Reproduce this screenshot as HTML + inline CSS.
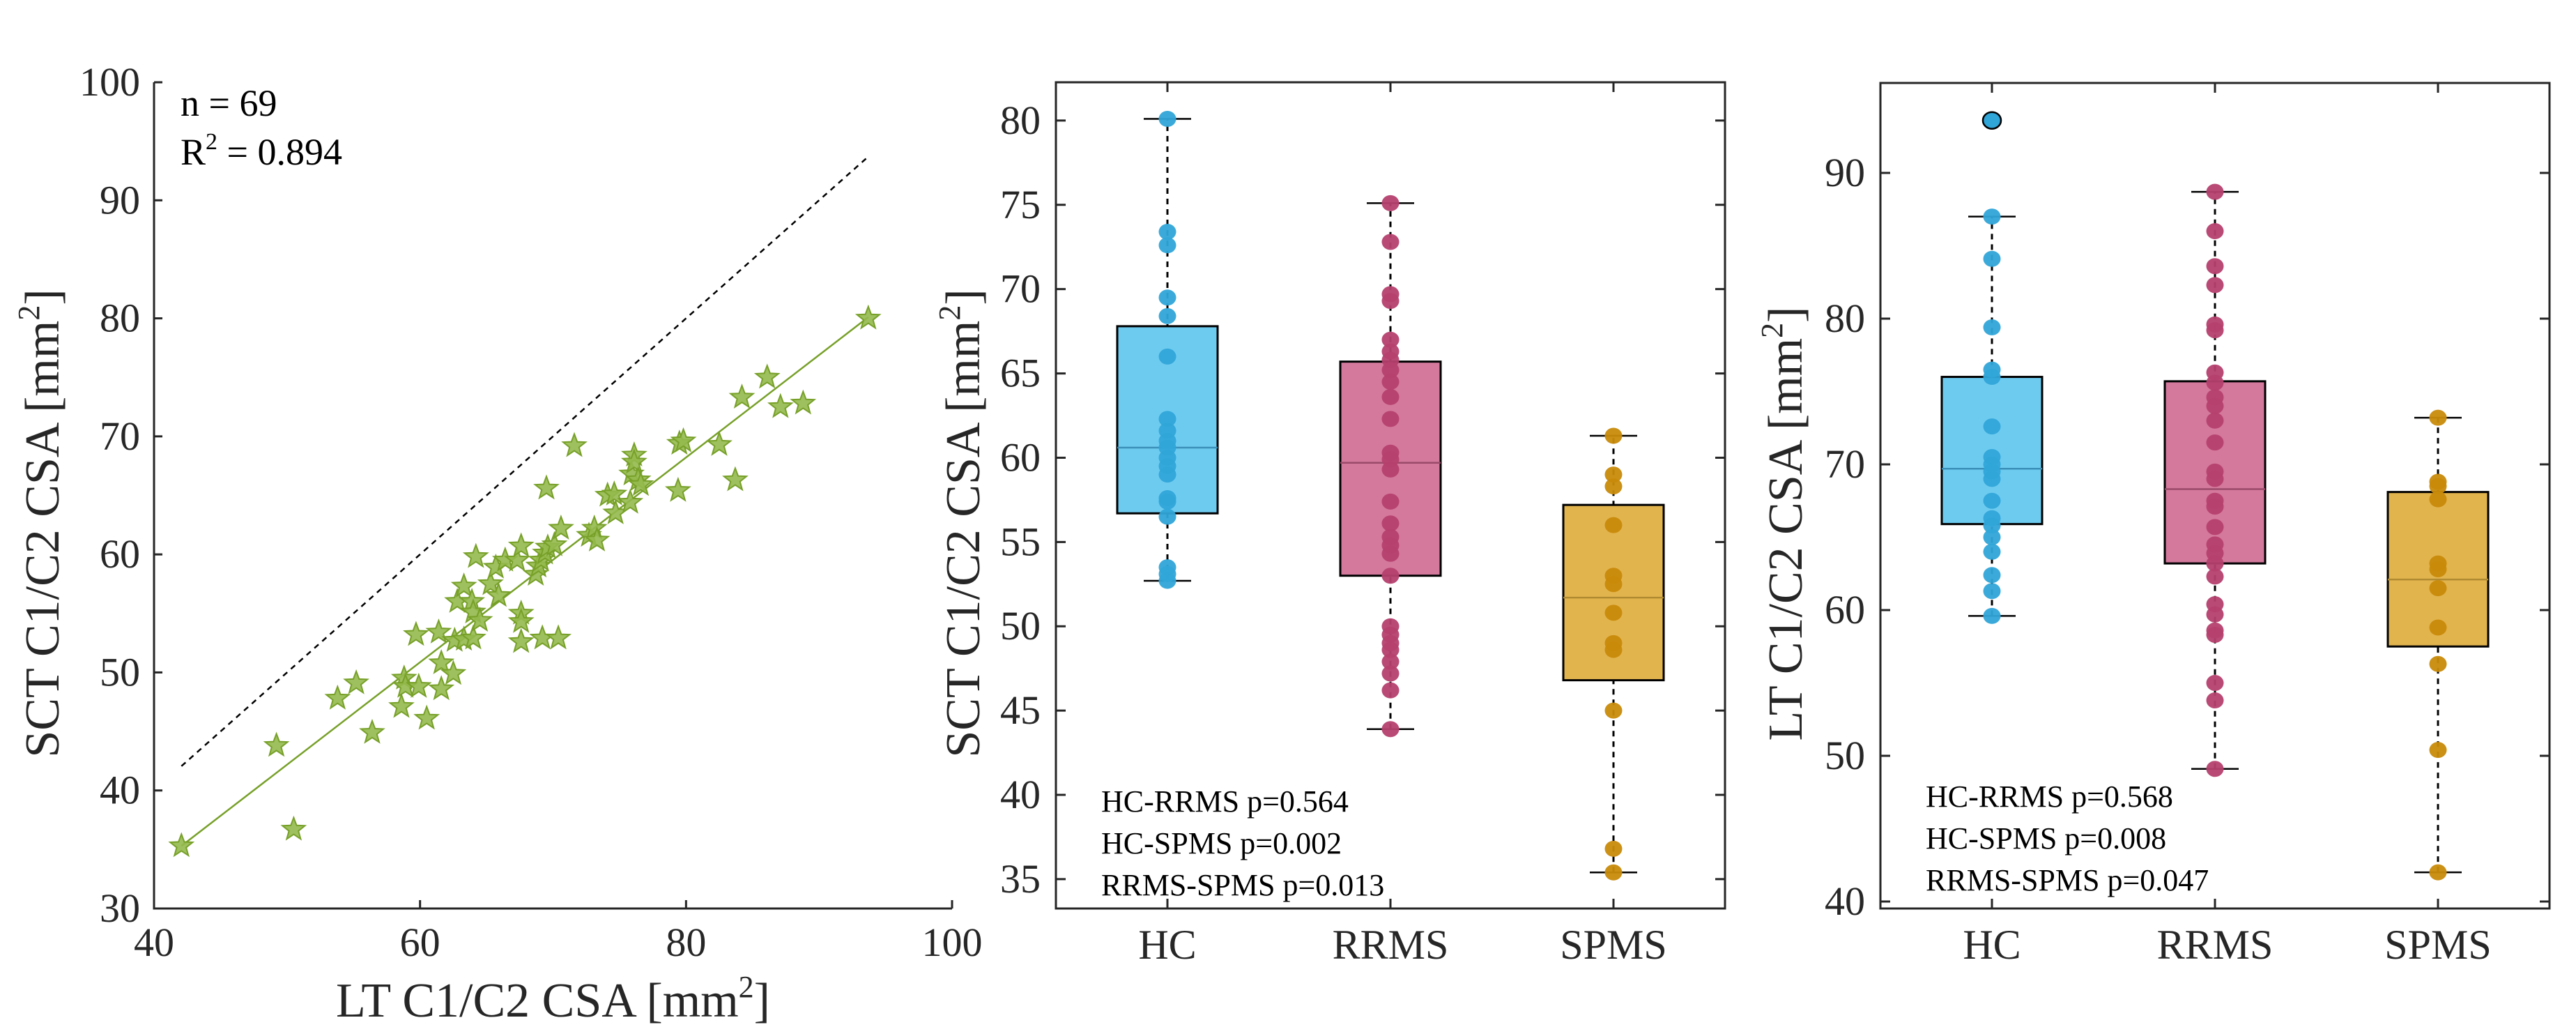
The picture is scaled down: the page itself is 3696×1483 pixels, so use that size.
<!DOCTYPE html>
<html><head><meta charset="utf-8"><style>
html,body{margin:0;padding:0;background:#fff;}
svg{display:block;font-family:"Liberation Serif",serif;}
</style></head><body>
<svg id="fig" width="3696" height="1483" viewBox="0 0 3696 1483" xmlns="http://www.w3.org/2000/svg">
<rect width="3696" height="1483" fill="#fff"/>
<g id="p1"></g>
<g id="p2"></g>
<g id="p3"></g>
</svg>
<script>
// ---- scatter data ----
const scatterLT = [42.06,49.2,50.5,53.8,55.2,56.4,58.6,58.8,58.9,59.7,59.9,60.5,61.4,61.6,61.6,62.5,62.6,62.8,63.3,63.3,63.9,64.0,64.0,64.2,64.5,65.3,65.7,65.9,66.4,67.3,67.6,67.6,67.6,67.6,68.7,68.9,69.1,69.2,69.4,69.5,69.6,70.1,70.4,70.6,71.6,72.7,73.1,73.3,74.1,74.6,74.7,75.8,75.9,76.1,76.1,76.4,76.6,79.4,79.5,79.8,82.5,83.7,84.2,86.1,87.1,88.8,93.7];
const scatterSCT = [35.3,43.8,36.7,47.8,49.1,44.9,47.1,49.5,48.8,53.2,48.8,46.1,53.4,50.8,48.6,49.9,52.7,56.0,57.3,52.8,56.0,55.1,52.9,59.8,54.4,57.5,58.9,56.5,59.5,59.5,60.7,55.0,54.3,52.6,58.3,59.0,59.5,52.9,60.1,65.6,60.6,60.8,52.9,62.2,69.2,61.6,62.2,61.2,65.0,65.1,63.5,64.4,66.8,68.4,67.8,66.3,65.9,65.4,69.4,69.6,69.3,66.3,73.3,75.0,72.5,72.8,80.0];
const fitLine = [[42.06,35.3],[93.7,80.1]];
const identityLine = [[42.06,42.06],[93.7,93.7]];
const p1XTicks = [40,60,80,100];
const p1YTicks = [30,40,50,60,70,80,90,100];

// ---- boxplot data (SCT) ----
const groups = ["HC","RRMS","SPMS"];
const sctHC = [80.1,73.4,72.6,69.5,68.4,66.0,62.3,61.6,61.0,60.6,60.0,59.5,59.0,57.6,57.4,56.5,53.5,53.1,52.7];
const sctRRMS = [75.1,72.8,69.7,69.3,67.0,66.3,65.8,65.2,64.5,63.6,62.3,60.3,59.9,59.3,57.4,56.1,55.3,54.8,54.3,53.0,50.0,49.5,49.0,48.6,47.9,47.2,46.2,43.9];
const sctSPMS = [61.3,59.0,58.3,56.0,53.0,52.5,50.8,49.0,48.6,45.0,36.8,35.4];
const sctQ1 = [56.7,53.0,46.8];
const sctMed = [60.6,59.7,51.7];
const sctQ3 = [67.8,65.7,57.2];
const sctLo = [52.7,43.9,35.4];
const sctHi = [80.1,75.1,61.3];
const sctTicks = [35,40,45,50,55,60,65,70,75,80];
const sctP = ["HC-RRMS p=0.564","HC-SPMS p=0.002","RRMS-SPMS p=0.013"];

// ---- boxplot data (LT) ----
const ltHC = [87.0,84.1,79.4,76.5,76.0,72.6,70.5,70.0,69.5,69.0,67.5,66.3,65.8,65.0,64.0,62.4,61.3,59.6];
const ltHCOutlier = [93.6];
const ltRRMS = [88.7,86.0,83.6,82.3,79.6,79.2,76.3,75.6,74.6,74.0,73.0,71.5,69.5,69.0,67.5,67.1,65.7,64.5,63.9,63.2,62.3,60.4,59.7,58.6,58.3,55.0,53.8,49.1];
const ltSPMS = [73.2,68.8,68.5,67.6,63.2,62.8,61.5,58.8,56.3,50.4,42.0];
const ltQ1 = [65.9,63.2,57.5];
const ltMed = [69.7,68.3,62.1];
const ltQ3 = [76.0,75.7,68.1];
const ltLo = [59.6,49.1,42.0];
const ltHi = [87.0,88.7,73.2];
const ltTicks = [40,50,60,70,80,90];
const ltP = ["HC-RRMS p=0.568","HC-SPMS p=0.008","RRMS-SPMS p=0.047"];

const NS="http://www.w3.org/2000/svg";
function mk(parent,tag,attrs,text){const e=document.createElementNS(NS,tag);for(const k in attrs)e.setAttribute(k,attrs[k]);if(text!==undefined)e.textContent=text;parent.appendChild(e);return e;}
function lin(d0,d1,r0,r1){return v=>r0+(v-d0)/(d1-d0)*(r1-r0);}
const TXT="#262626";
const TF=70;

// ===== Panel 1 =====
(function(){
const g=document.getElementById('p1');
const L=221,R=1366,T=118,B=1303;
const x=lin(40,100,L,R), y=lin(30,100,B,T);
p1XTicks.forEach(t=>{
  const l=mk(g,'line',{x1:x(t),x2:x(t),y1:B,y2:B-12,stroke:TXT,'stroke-width':3});
  
  
  const s=mk(g,'text',{x:x(t),y:B+68,'font-size':58,fill:TXT,'text-anchor':'middle'},String(t));
  
  
});
p1YTicks.forEach(t=>{
  const l=mk(g,'line',{x1:L,x2:L+12,y1:y(t),y2:y(t),stroke:TXT,'stroke-width':3});
  
  
  const s=mk(g,'text',{x:L-20,y:y(t)+19,'font-size':58,fill:TXT,'text-anchor':'end'},String(t));
  
  
});
const ax=mk(g,'path',{d:`M${L},${T}V${B}H${R}`,fill:'none',stroke:TXT,'stroke-width':3});


const idl=mk(g,'line',{x1:x(identityLine[0][0]),y1:y(identityLine[0][1]),x2:x(identityLine[1][0]),y2:y(identityLine[1][1]),stroke:'#000','stroke-width':2.5,'stroke-dasharray':'8,7'});


const fl=mk(g,'line',{x1:x(fitLine[0][0]),y1:y(fitLine[0][1]),x2:x(fitLine[1][0]),y2:y(fitLine[1][1]),stroke:'#77a028','stroke-width':2.5});


function star(cx,cy,r){let p=[];for(let i=0;i<10;i++){const a=-Math.PI/2+i*Math.PI/5;const rr=i%2?r*0.42:r;p.push((cx+rr*Math.cos(a)).toFixed(1)+','+(cy+rr*Math.sin(a)).toFixed(1));}return p.join(' ');}
scatterLT.forEach((v,i)=>{
  const s=mk(g,'polygon',{points:star(x(v),y(scatterSCT[i]),17),fill:'#94b94c','fill-opacity':0.9,stroke:'#77a028','stroke-width':2});
  
  
});
const n=mk(g,'text',{x:259,y:166,'font-size':54,fill:'#000'},'n = 69');


const r2=mk(g,'text',{x:259,y:236,'font-size':54,fill:'#000'});


mk(r2,'tspan',{},'R');mk(r2,'tspan',{'font-size':34,dy:-22},'2');mk(r2,'tspan',{dy:22},' = 0.894');
const xl=mk(g,'text',{x:(L+R)/2,y:1458,'font-size':TF,fill:TXT,'text-anchor':'middle'});


mk(xl,'tspan',{},'LT C1/C2 CSA [mm');mk(xl,'tspan',{'font-size':44,dy:-28},'2');mk(xl,'tspan',{dy:28},']');
const yl=mk(g,'text',{x:0,y:0,'font-size':TF,fill:TXT,'text-anchor':'middle',transform:`translate(84,${(T+B)/2+40}) rotate(-90)`});


mk(yl,'tspan',{},'SCT C1/C2 CSA [mm');mk(yl,'tspan',{'font-size':44,dy:-28},'2');mk(yl,'tspan',{dy:28},']');
})();

// ===== Boxplot panels =====
const fills=['#6ecbf0','#d4799c','#e2b44e'];
const dots=['#30a5d8','#b5406e','#c88a0a'];
const meds=['#3a8fb8','#9a4a6a','#b08a30'];
function boxPanel(id,L,R,T,B,ymin,ymax,ticks,pts,q1,med,q3,lo,hi,ptxt,ptx,pty,ylabelX,ylabel,outliers){
  const g=document.getElementById(id);
  const x=lin(0.5,3.5,L,R), y=lin(ymin,ymax,B,T);
  const fr=mk(g,'rect',{x:L,y:T,width:R-L,height:B-T,fill:'none',stroke:TXT,'stroke-width':3});
  
  
  ticks.forEach(t=>{
    const a=mk(g,'path',{d:`M${L},${y(t)}h14M${R},${y(t)}h-14`,stroke:TXT,'stroke-width':3});
    
    
    const s=mk(g,'text',{x:L-22,y:y(t)+19,'font-size':58,fill:TXT,'text-anchor':'end'},String(t));
    
    
  });
  groups.forEach((gn,i)=>{
    const cx=x(i+1);
    const a=mk(g,'path',{d:`M${cx},${B}v-14M${cx},${T}v14`,stroke:TXT,'stroke-width':3});
    
    
    const s=mk(g,'text',{x:cx,y:B+72,'font-size':60,fill:TXT,'text-anchor':'middle'},gn);
    
    
    const hw=72, cw=34;
    const w=mk(g,'line',{x1:cx,x2:cx,y1:y(lo[i]),y2:y(hi[i]),stroke:'#000','stroke-width':3,'stroke-dasharray':'8,7'});
    
    
    const c1=mk(g,'line',{x1:cx-cw,x2:cx+cw,y1:y(lo[i]),y2:y(lo[i]),stroke:'#000','stroke-width':2.5});
    
    
    const c2=mk(g,'line',{x1:cx-cw,x2:cx+cw,y1:y(hi[i]),y2:y(hi[i]),stroke:'#000','stroke-width':2.5});
    
    
    const b=mk(g,'rect',{x:cx-hw,y:y(q3[i]),width:2*hw,height:y(q1[i])-y(q3[i]),fill:fills[i],stroke:'#000','stroke-width':3});
    
    
    const m=mk(g,'line',{x1:cx-hw,x2:cx+hw,y1:y(med[i]),y2:y(med[i]),stroke:meds[i],'stroke-width':2.5});
    
    
    pts[i].forEach(v=>{
      const d=mk(g,'ellipse',{cx:cx,cy:y(v),rx:12.5,ry:11.5,fill:dots[i],'fill-opacity':0.95});
      
      
    });
  });
  (outliers||[]).forEach(v=>{
    const d=mk(g,'ellipse',{cx:x(1),cy:y(v),rx:13,ry:12,fill:dots[0],stroke:'#000','stroke-width':2.5});
    
    
  });
  ptxt.forEach((t,i)=>{
    const s=mk(g,'text',{x:ptx,y:pty+i*60,'font-size':44,fill:'#000'},t);
    
    
  });
  const yl=mk(g,'text',{x:0,y:0,'font-size':TF,fill:TXT,'text-anchor':'middle',transform:`translate(${ylabelX},${(T+B)/2+40}) rotate(-90)`});
  
  
  mk(yl,'tspan',{},ylabel+' C1/C2 CSA [mm');mk(yl,'tspan',{'font-size':44,dy:-28},'2');mk(yl,'tspan',{dy:28},']');
}
boxPanel('p2',1515,2475,118,1303,33.26,82.27,sctTicks,[sctHC,sctRRMS,sctSPMS],sctQ1,sctMed,sctQ3,sctLo,sctHi,sctP,1580,1164,1405,'SCT');
boxPanel('p3',2698,3658,119,1303,39.52,96.17,ltTicks,[ltHC,ltRRMS,ltSPMS],ltQ1,ltMed,ltQ3,ltLo,ltHi,ltP,2763,1157,2585,'LT',ltHCOutlier);
</script>
</body></html>
